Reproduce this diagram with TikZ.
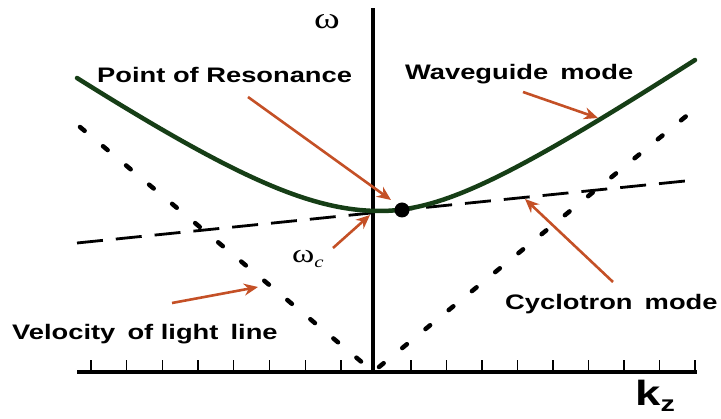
\documentclass[tikz,border=0pt]{standalone}
\usepackage{fontspec}
\setmainfont{Liberation Sans}
\newfontfamily\serifgr{Liberation Serif}
\usetikzlibrary{arrows.meta}
\definecolor{wgreen}{RGB}{22,62,22}
\definecolor{arr}{RGB}{196,80,38}
\begin{document}
\begin{tikzpicture}[x=1pt,y=-1pt,
  lbl/.style={inner sep=0pt, anchor=base west, font=\fontsize{21}{25}\selectfont\bfseries},
  pointer/.style={draw=arr, line width=2.6pt, -{Stealth[length=14pt,width=12pt]}},
  axisline/.style={line width=3.6pt},
  tickmark/.style={line width=1.3pt},
  lightline/.style={line width=4.5pt, dash pattern=on 6pt off 24pt, line cap=round},
  cycline/.style={line width=2.8pt, dash pattern=on 26pt off 13pt},
  wgcurve/.style={draw=wgreen, line width=4.5pt, line cap=round}]
\useasboundingbox (0,0) rectangle (721,419);
% axes
\coordinate (xl) at (77,372);
\coordinate (xr) at (697,372);
\coordinate (yb) at (373,374);
\coordinate (yt) at (373,8);
\draw[axisline] (xl) -- (xr);
\draw[axisline, line width=4pt] (yb) -- (yt);
\foreach \i in {0,...,7} \draw[tickmark] ({91+35.7*\i},372) -- ++(0,-12);
\foreach \i in {0,...,8} \draw[tickmark] ({411+35.5*\i},372) -- ++(0,-12);
% light lines
\coordinate (lla) at (80,127);
\coordinate (llb) at (370,369);
\coordinate (lra) at (379,367);
\coordinate (lrb) at (690,113);
\draw[lightline] (lla) -- (llb);
\draw[lightline] (lra) -- (lrb);
% cyclotron line
\coordinate (ca) at (77,243);
\coordinate (cb) at (695,180);
\draw[cycline] (ca) -- (cb);
% waveguide curve
\draw[wgcurve] plot[domain=77:380, samples=60] (\x, {211 - 100*(sqrt(1+0.4824*((380-\x)/100)^2)-1)})
  -- plot[domain=380:695, samples=60] (\x, {211 - 75*(sqrt(1+0.458*((\x-380)/75)^2)-1)});
\node[circle, fill=black, minimum size=15pt, inner sep=0pt] (res) at (402,210) {};
% labels
\node[inner sep=0pt] (om) at (327,22) {\serifgr\fontsize{30}{30}\selectfont\scalebox{1.3}[1]{ω}};
\node[inner sep=0pt, anchor=base west] (omc) at (292,263) {\serifgr\fontsize{26}{26}\selectfont\scalebox{1.3}[1]{ω\raisebox{-5pt}{\fontsize{16}{16}\selectfont\itshape c}}};
\node[lbl] (por) at (97,83) {\scalebox{1.3}[1]{Point of Resonance}};
\node[lbl] (wgm) at (405,80) {\scalebox{1.3}[1]{Waveguide\, mode}};
\node[lbl] (cym) at (505,310) {\scalebox{1.3}[1]{Cyclotron\, mode}};
\node[lbl] (vll) at (12,340) {\scalebox{1.3}[1]{Velocity\, of light\, line}};
\node[inner sep=0pt, anchor=base west] (kz) at (635,406) {\fontsize{35}{35}\selectfont\bfseries\scalebox{1.3}[1]{k\raisebox{-6pt}{\fontsize{22}{22}\selectfont z}}};
% pointers
\coordinate (pa) at (248,97);   \coordinate (pb) at (391,200);
\coordinate (wa) at (523,92);   \coordinate (wb) at (598,118);
\coordinate (oa) at (333,248);  \coordinate (ob) at (370,215);
\coordinate (va) at (172,303);  \coordinate (vb) at (258,287);
\coordinate (ya) at (613,282);  \coordinate (yb2) at (525,199);
\draw[pointer] (pa) -- (pb);
\draw[pointer] (wa) -- (wb);
\draw[pointer] (oa) -- (ob);
\draw[pointer] (va) -- (vb);
\draw[pointer] (ya) -- (yb2);
\end{tikzpicture}
\end{document}
